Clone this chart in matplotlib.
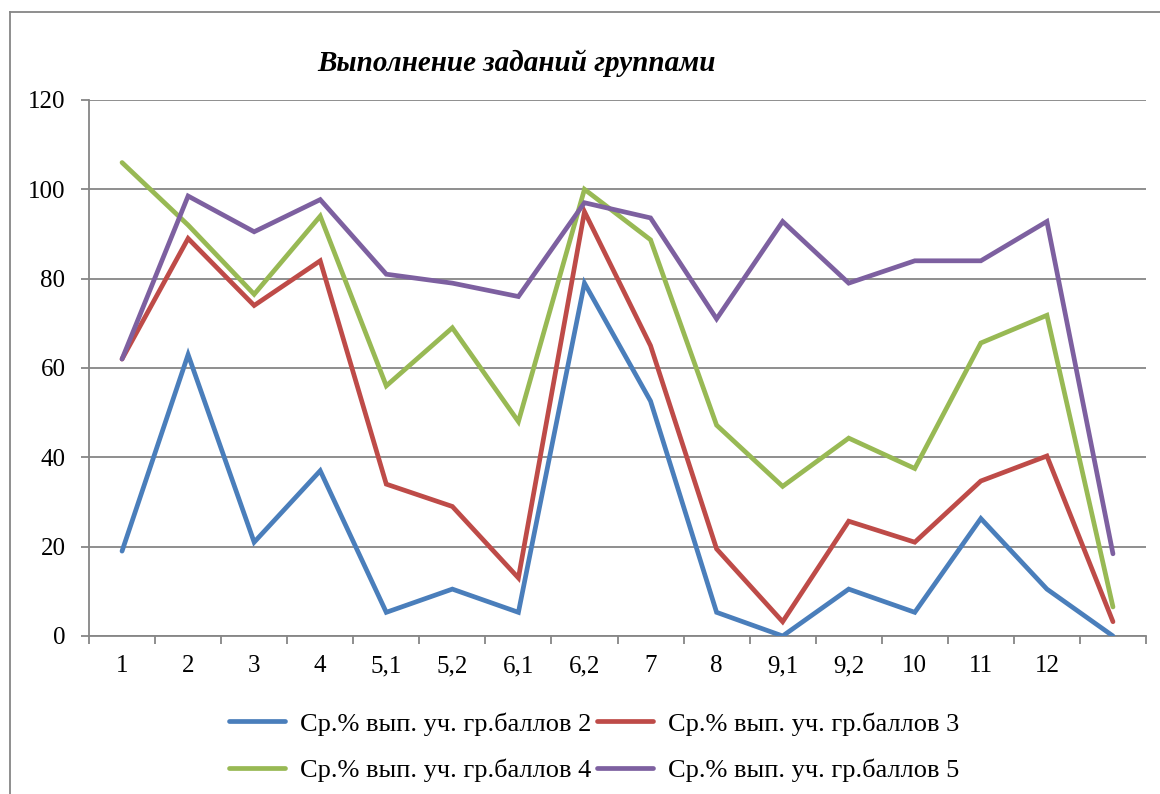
import matplotlib
matplotlib.use("Agg")
import matplotlib.pyplot as plt
from matplotlib.lines import Line2D

categories = ["1", "2", "3", "4", "5,1", "5,2", "6,1", "6,2", "7", "8", "9,1", "9,2", "10", "11", "12", ""]
s2 = [19, 63, 21, 37, 5.3, 10.5, 5.3, 79, 52.6, 5.3, 0, 10.5, 5.3, 26.3, 10.5, 0]
s3 = [62, 89, 74, 84, 34, 29, 13, 95, 65, 19.5, 3.2, 25.7, 21, 34.7, 40.3, 3.2]
s4 = [106, 92, 76.5, 94, 56, 69, 48, 100, 88.7, 47.2, 33.5, 44.3, 37.5, 65.6, 71.8, 6.5]
s5 = [62, 98.5, 90.5, 97.7, 81, 79, 76, 97, 93.6, 71, 92.8, 79, 84, 84, 92.8, 18.4]
labels = ["Ср.% вып. уч. гр.баллов 2", "Ср.% вып. уч. гр.баллов 3",
          "Ср.% вып. уч. гр.баллов 4", "Ср.% вып. уч. гр.баллов 5"]
colors = ["#4A7EBB", "#BE4B48", "#98B954", "#7D60A0"]
title = "Выполнение заданий группами"

plt.rcParams['font.family'] = ['Liberation Serif', 'DejaVu Serif']

fig = plt.figure(figsize=(11.6, 7.94), dpi=100)
W, H = 1160, 794
ax = fig.add_axes([89 / W, 1 - 636 / H, (1146 - 89) / W, (636 - 100) / H])

x = list(range(len(categories)))
handles = []
for data, c, lab in zip([s2, s3, s4, s5], colors, labels):
    h, = ax.plot(x, data, color=c, lw=3.4, label=lab, solid_capstyle='round',
                 solid_joinstyle='miter', zorder=3)
    handles.append(h)

ax.set_xlim(-0.5, len(categories) - 0.5)
ax.set_ylim(0, 120)
ax.set_yticks(range(0, 121, 20))
ax.yaxis.grid(True, color="#868686", lw=1.3)
ax.set_axisbelow(True)
for sp in ["top", "right"]:
    ax.spines[sp].set_visible(False)
for sp in ["left", "bottom"]:
    ax.spines[sp].set_color("#868686")
    ax.spines[sp].set_linewidth(1.3)

ax.set_xticks([i - 0.5 for i in range(len(categories) + 1)], minor=False)
ax.set_xticklabels([])
ax.set_xticks(x, minor=True)
ax.set_xticklabels(categories, minor=True)
ax.tick_params(axis='x', which='major', length=6, width=1.3, color="#868686")
ax.tick_params(axis='x', which='minor', length=0, pad=14, labelsize=18)
ax.tick_params(axis='y', length=6, width=1.3, color="#868686", labelsize=18, pad=11)

fig.text(517 / W, 1 - 63 / H, title, ha='center', va='center', fontsize=21,
         fontweight='bold', fontstyle='italic')

order = [0, 2, 1, 3]
fig.legend([handles[i] for i in order], [labels[i] for i in order],
           loc='upper left', bbox_to_anchor=(216 / W, 1 - 699 / H), ncol=2, frameon=False,
           fontsize=19, handlelength=2.1, handletextpad=0.6, columnspacing=0.2,
           labelspacing=0.88, borderpad=0)

fig.add_artist(Line2D([10 / W, 10 / W], [0, 1 - 12 / H], transform=fig.transFigure, color="#868686", lw=1.3))
fig.add_artist(Line2D([10 / W, 1], [1 - 12 / H, 1 - 12 / H], transform=fig.transFigure, color="#868686", lw=1.3))

fig.savefig("out.png", dpi=100)
